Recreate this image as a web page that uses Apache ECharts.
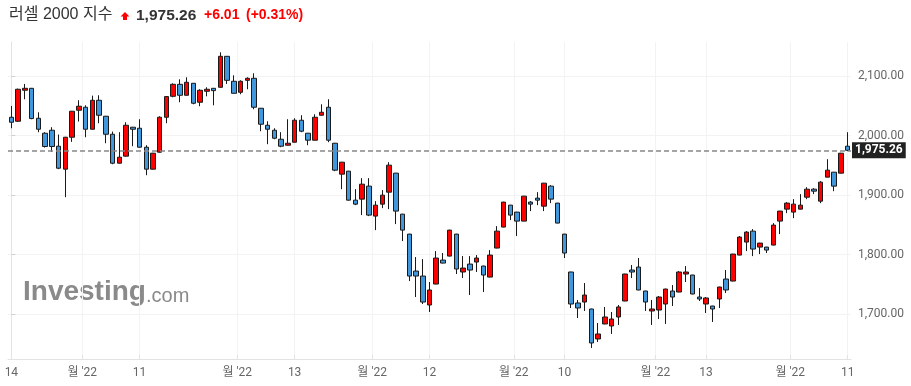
<!DOCTYPE html>
<html>
<head>
<meta charset="utf-8">
<script src="https://cdn.jsdelivr.net/npm/echarts@6/dist/echarts.min.js"></script>
<style>html,body{margin:0;padding:0;background:#fff}#c{width:911px;height:386px}</style>
</head>
<body>
<div id="c"></div>
<script>
// ---- data ----
const opens = [2030.7,2024.0,2076.0,2079.3,2029.0,2003.9,2008.9,1982.1,1943.6,1997.2,
2042.5,2047.5,2010.6,2059.2,2032.4,2002.2,1953.6,1965.4,2014.0,2012.3,
1980.4,1943.6,1972.1,2030.7,2065.9,2086.0,2067.6,2087.7,2055.9,2074.3,
2079.3,2081.0,2133.0,2091.1,2072.6,2092.7,2096.1,2045.8,2017.3,2008.9,
1993.8,1983.8,1988.8,2025.7,2003.9,1992.2,2034.1,2047.5,1987.1,1935.2,
1940.2,1891.6,1893.3,1915.1,1864.8,1884.9,1905.0,1936.9,1868.1,1834.6,
1772.6,1764.2,1715.6,1750.8,1791.0,1797.7,1834.6,1771.0,1784.3,1787.7,
1781.0,1762.5,1811.2,1846.4,1883.2,1871.5,1856.4,1888.3,1895.0,1881.5,
1915.1,1886.6,1834.6,1771.0,1719.0,1720.6,1708.9,1658.6,1683.8,1680.4,
1695.5,1722.3,1774.3,1779.3,1739.1,1705.6,1707.2,1717.3,1739.1,1737.4,
1767.6,1765.9,1729.0,1717.3,1713.9,1725.7,1759.2,1755.8,1799.4,1821.2,
1839.6,1812.8,1812.8,1816.2,1856.4,1876.5,1871.5,1876.5,1896.6,1910.0,
1889.9,1930.2,1938.5,1936.9,1982.1];
const closes = [2022.3,2077.7,2079.3,2028.5,2010.6,1981.6,1981.6,1945.2,1997.2,2040.8,
2049.2,2010.6,2059.2,2034.1,2002.2,1953.6,1963.7,2017.3,2010.6,1980.4,
1943.6,1970.4,2030.7,2065.4,2086.0,2067.6,2089.4,2054.2,2076.0,2077.7,
2075.4,2133.0,2092.7,2070.9,2091.1,2096.1,2047.5,2019.0,2010.6,1995.5,
1982.1,1987.1,2025.7,2007.3,1992.2,2030.7,2039.1,1992.2,1941.9,1955.3,
1891.6,1884.9,1918.4,1866.5,1883.2,1900.0,1950.3,1873.2,1841.3,1764.2,
1764.2,1720.6,1740.8,1794.4,1786.0,1841.3,1776.0,1777.6,1774.3,1794.4,
1765.9,1799.4,1839.6,1888.3,1866.5,1856.4,1898.3,1884.9,1891.6,1920.1,
1893.3,1853.1,1802.8,1717.3,1710.6,1732.4,1651.9,1667.0,1695.5,1692.1,
1712.3,1767.6,1771.0,1740.8,1720.6,1708.9,1729.0,1742.4,1729.0,1771.0,
1771.0,1734.1,1725.7,1727.4,1708.9,1745.8,1740.8,1801.1,1829.6,1838.0,
1809.5,1819.5,1807.8,1849.7,1873.2,1886.6,1884.9,1883.2,1910.0,1906.7,
1921.8,1941.9,1915.1,1970.4,1975.26];
const lows = [2012.3,2022.9,2060.9,2027.4,2005.6,1979.9,1972.6,1943.6,1896.6,1989.4,
2023.5,1997.2,2010.0,2020.7,1987.1,1951.9,1953.0,1965.0,1982.1,1980.0,
1933.5,1943.0,1971.5,2020.7,2064.2,2055.9,2067.0,2052.5,2049.2,2065.9,
2050.8,2080.5,2086.6,2070.5,2069.3,2077.7,2044.1,2007.3,1985.5,1993.8,
1980.4,1983.3,1988.3,2005.6,1983.8,1991.7,2033.6,1988.8,1940.2,1910.0,
1891.0,1883.2,1866.5,1864.8,1841.3,1878.2,1876.5,1851.4,1822.9,1755.8,
1729.0,1717.3,1703.9,1750.3,1785.5,1797.2,1767.6,1760.9,1732.4,1771.0,
1737.4,1762.0,1810.7,1845.9,1858.1,1831.3,1856.0,1873.2,1883.2,1873.2,
1886.6,1852.6,1794.4,1710.6,1693.8,1705.6,1643.5,1653.6,1683.3,1667.0,
1682.1,1722.0,1760.9,1740.5,1705.6,1682.1,1692.1,1683.8,1713.9,1737.0,
1754.2,1733.6,1722.3,1702.2,1687.1,1710.6,1735.7,1755.3,1799.0,1806.1,
1797.7,1801.1,1802.8,1815.7,1834.6,1869.8,1861.4,1876.0,1893.3,1901.7,
1886.6,1930.0,1906.7,1936.5,1973.7];
const highs = [2049.7,2078.8,2086.6,2079.9,2039.1,2005.6,2014.0,2001.7,1997.8,2041.3,
2059.2,2050.8,2067.0,2067.6,2033.0,2006.7,2005.6,2022.3,2014.5,2027.4,
1983.8,1971.0,2032.4,2066.0,2087.7,2094.4,2097.8,2088.0,2077.7,2081.0,
2079.8,2139.7,2133.5,2101.1,2092.7,2097.8,2104.5,2046.3,2024.0,2012.3,
2005.6,2027.4,2029.0,2034.1,2004.4,2035.7,2052.5,2060.9,1987.6,1955.8,
1940.7,1910.0,1928.5,1928.5,1889.9,1908.4,1955.3,1937.4,1868.6,1835.0,
1796.1,1792.7,1754.2,1806.1,1802.8,1841.8,1835.0,1797.7,1797.7,1799.4,
1781.5,1807.8,1848.0,1888.8,1883.7,1872.0,1898.8,1889.9,1905.0,1920.6,
1916.7,1887.0,1835.0,1771.5,1724.0,1752.5,1709.4,1685.4,1712.3,1703.9,
1715.6,1768.0,1782.7,1794.4,1739.5,1724.0,1730.7,1742.9,1749.1,1772.6,
1781.0,1766.3,1744.1,1729.0,1714.3,1746.3,1774.3,1801.6,1831.3,1839.6,
1843.0,1820.0,1813.2,1853.1,1873.7,1888.3,1893.3,1901.7,1913.4,1911.7,
1923.5,1960.3,1939.0,1971.0,2005.6];

// x-axis tick positions (in candle index units) and their labels
const xTickPositions = [0, 10.5, 19, 33.5, 42, 53.5, 62, 74.5, 82, 95.5, 103, 115.5, 124];
const xTickLabels = ['14', "월 '22", '11', "월 '22", '13', "월 '22", '12', "월 '22", '10', "월 '22", '13', "월 '22", '11'];
// y-axis ticks
const yTicks = [1700, 1800, 1900, 2000, 2100];
const yMin = 1625, yMax = 2157;

const lastPrice = 1975.26;
const titleName = '러셀 2000 지수';
const titlePrice = '1,975.26';
const titleChange = '+6.01';
const titlePct = '(+0.31%)';

// ---- build ----
const categories = opens.map((_, i) => String(i));
const ohlc = opens.map((o, i) => [o, closes[i], lows[i], highs[i]]);
const fmt = v => v.toLocaleString('en-US', {minimumFractionDigits: 2, maximumFractionDigits: 2});

const AX_FONT = 'Roboto, "Noto Sans CJK KR", sans-serif';
const T_FONT = '"Liberation Sans", Arial, "Noto Sans CJK KR", sans-serif';

const chart = echarts.init(document.getElementById('c'), null, {renderer: 'canvas'});
chart.setOption({
  animation: false,
  backgroundColor: '#ffffff',
  grid: {left: 8, right: 60, top: 42, bottom: 27, containLabel: false, outerBoundsMode: 'none'},
  xAxis: [
    {
      type: 'category', data: categories, boundaryGap: true,
      axisLine: {show: true, lineStyle: {color: '#e3e3e3'}},
      axisTick: {show: false}, axisLabel: {show: false}, splitLine: {show: false}
    },
    {
      type: 'value', min: -0.5, max: opens.length - 0.5, position: 'bottom',
      axisLine: {show: false},
      axisTick: {show: true, inside: true, length: 4, customValues: xTickPositions, lineStyle: {color: '#e3e3e3'}},
      axisLabel: {
        show: true, customValues: xTickPositions, color: '#666', fontSize: 12, fontFamily: AX_FONT, margin: 8,
        formatter: v => { const k = xTickPositions.indexOf(v); return k >= 0 ? xTickLabels[k] : ''; }
      },
      splitLine: {show: true, lineStyle: {color: '#f3f3f3'}}
    }
  ],
  yAxis: {
    type: 'value', position: 'right', min: yMin, max: yMax, scale: true,
    axisLine: {show: true, lineStyle: {color: '#e3e3e3'}},
    axisTick: {show: true, length: 4, customValues: yTicks, lineStyle: {color: '#d0d0d0'}},
    axisLabel: {customValues: yTicks, color: '#666', fontSize: 12, fontFamily: AX_FONT, margin: 7, formatter: v => fmt(v)},
    splitLine: {show: true, lineStyle: {color: '#f3f3f3'}}
  },
  series: [{
    type: 'candlestick',
    xAxisIndex: 0,
    data: ohlc,
    barWidth: 5,
    itemStyle: {
      color: '#ff0000', color0: '#4097dc',
      borderColor: '#1a1a1a', borderColor0: '#1a1a1a', borderColorDoji: '#1a1a1a', borderWidth: 1
    },
    markLine: {
      silent: true, symbol: 'none', animation: false,
      lineStyle: {color: '#888', type: [5, 3], width: 1.5},
      label: {
        show: true, position: 'end', distance: 1, formatter: () => fmt(lastPrice),
        backgroundColor: '#222', color: '#fff', fontSize: 12, fontWeight: 'bold', fontFamily: AX_FONT,
        padding: [2, 3, 2, 3]
      },
      data: [{yAxis: lastPrice}]
    }
  }],
  graphic: [
    {type: 'text', left: 9, top: 7, style: {text: titleName, font: '16px ' + T_FONT, fill: '#333'}},
    {type: 'polygon', shape: {points: [[125, 12], [129.5, 16.5], [127, 16.5], [127, 20], [123, 20], [123, 16.5], [120.5, 16.5]]}, style: {fill: '#ff0000'}},
    {type: 'text', left: 136, top: 7.5, style: {text: titlePrice, font: 'bold 15.5px ' + T_FONT, fill: '#333'}},
    {type: 'text', left: 204, top: 8, style: {text: titleChange, font: 'bold 14px ' + T_FONT, fill: '#ff0000'}},
    {type: 'text', left: 246, top: 8, style: {text: titlePct, font: 'bold 14px ' + T_FONT, fill: '#ff0000'}},
    {type: 'text', left: 23, top: 278, z: -1, style: {text: 'Investing', font: 'bold 28px ' + T_FONT, fill: '#8a8a8a'}},
    {type: 'text', left: 146, top: 286, z: -1, style: {text: '.com', font: '20px ' + T_FONT, fill: '#8a8a8a'}}
  ]
});
</script>
</body>
</html>
